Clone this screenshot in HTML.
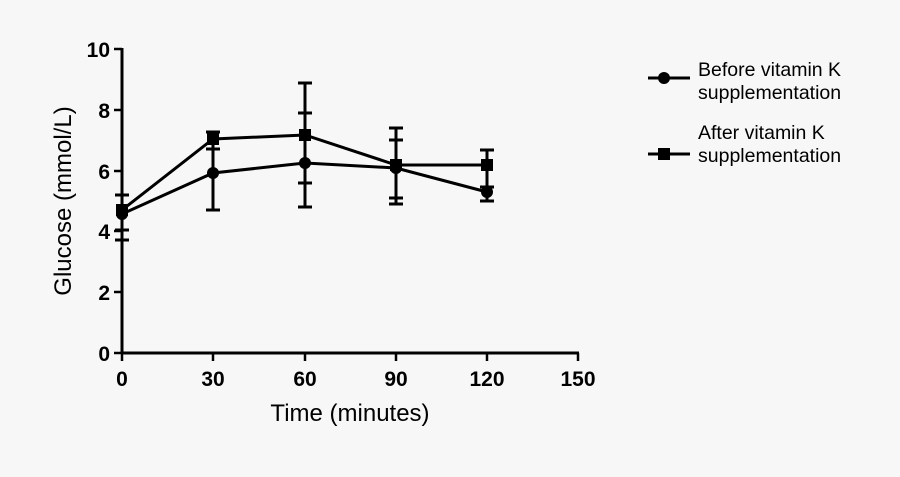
<!DOCTYPE html><html><head><style>body{margin:0;background:#f7f7f7}svg{display:block}text{font-family:"Liberation Sans",sans-serif;fill:#000}</style></head><body>
<svg width="900" height="477" viewBox="0 0 900 477">
<rect width="900" height="477" fill="#f7f7f7"/>
<g stroke="#000" stroke-width="3" fill="none">
<line x1="122" y1="48" x2="122" y2="354"/>
<line x1="121" y1="353" x2="579" y2="353"/>
<g stroke-width="2.5">
<line x1="114" y1="49" x2="122" y2="49"/><line x1="114" y1="110" x2="122" y2="110"/><line x1="114" y1="171" x2="122" y2="171"/><line x1="114" y1="231" x2="122" y2="231"/><line x1="114" y1="292" x2="122" y2="292"/><line x1="114" y1="353" x2="122" y2="353"/>
<line x1="122" y1="353" x2="122" y2="361"/><line x1="213" y1="353" x2="213" y2="361"/><line x1="305" y1="353" x2="305" y2="361"/><line x1="396" y1="353" x2="396" y2="361"/><line x1="487" y1="353" x2="487" y2="361"/><line x1="578" y1="353" x2="578" y2="361"/>
</g>
<line x1="122" y1="195" x2="122" y2="240"/><line x1="115" y1="195" x2="129" y2="195"/><line x1="115" y1="230" x2="129" y2="230"/><line x1="115" y1="240" x2="129" y2="240"/>
<line x1="213" y1="132" x2="213" y2="210"/><line x1="206" y1="132" x2="220" y2="132"/><line x1="206" y1="149" x2="220" y2="149"/><line x1="206" y1="210" x2="220" y2="210"/>
<line x1="305" y1="83" x2="305" y2="207"/><line x1="298" y1="83" x2="312" y2="83"/><line x1="298" y1="113" x2="312" y2="113"/><line x1="298" y1="183" x2="312" y2="183"/><line x1="298" y1="207" x2="312" y2="207"/>
<line x1="396" y1="128" x2="396" y2="204"/><line x1="389" y1="128" x2="403" y2="128"/><line x1="389" y1="140" x2="403" y2="140"/><line x1="389" y1="198" x2="403" y2="198"/><line x1="389" y1="204" x2="403" y2="204"/>
<line x1="487" y1="150" x2="487" y2="201"/><line x1="480" y1="150" x2="494" y2="150"/><line x1="480" y1="187" x2="494" y2="187"/><line x1="480" y1="201" x2="494" y2="201"/>
<polyline points="122,214 213,173 305,163 396,168 487,192"/>
<polyline points="122,210 213,139 305,135 396,165 487,165"/>
<line x1="648" y1="78" x2="690" y2="78"/><line x1="648" y1="154" x2="690" y2="154"/>
</g>
<g fill="#000">
<circle cx="122" cy="214" r="6"/><circle cx="213" cy="173" r="6"/><circle cx="305" cy="163" r="6"/><circle cx="396" cy="168" r="6"/><circle cx="487" cy="192" r="6"/>
<rect x="116" y="204" width="12" height="12"/><rect x="207" y="133" width="12" height="12"/><rect x="299" y="129" width="12" height="12"/><rect x="390" y="159" width="12" height="12"/><rect x="481" y="159" width="12" height="12"/>
<circle cx="664" cy="78" r="6"/><rect x="658" y="148" width="12" height="12"/>
</g>
<g font-size="21" text-anchor="end" font-weight="bold">
<text x="110" y="57">10</text><text x="110" y="118">8</text><text x="110" y="179">6</text><text x="110" y="239">4</text><text x="110" y="300">2</text><text x="110" y="361">0</text>
</g>
<g font-size="21" text-anchor="middle" font-weight="bold">
<text x="122" y="386">0</text><text x="213" y="386">30</text><text x="305" y="386">60</text><text x="396" y="386">90</text><text x="487" y="386">120</text><text x="578" y="386">150</text>
</g>
<text x="350" y="421" font-size="24" text-anchor="middle">Time (minutes)</text>
<text transform="translate(71,201) rotate(-90)" font-size="24" text-anchor="middle">Glucose (mmol/L)</text>
<g font-size="19.5">
<text x="698" y="76">Before vitamin K</text><text x="698" y="99">supplementation</text>
<text x="698" y="139">After vitamin K</text><text x="698" y="162">supplementation</text>
</g>
</svg></body></html>
